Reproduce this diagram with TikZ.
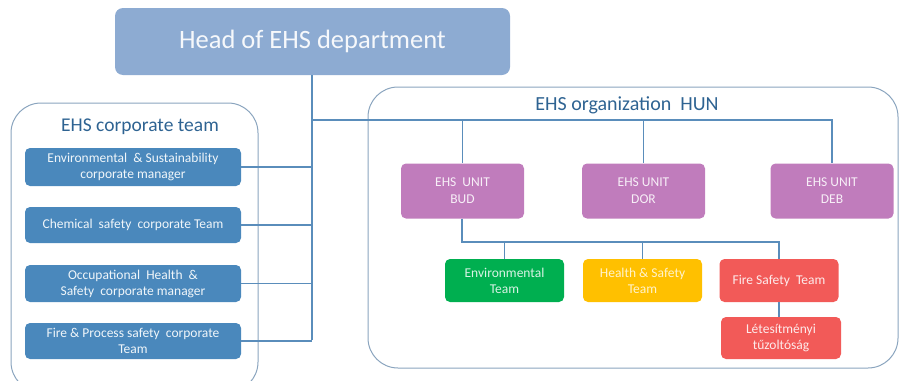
\documentclass[tikz,border=0pt]{standalone}
\usepackage{fontspec}
\setmainfont{Carlito}
\definecolor{headblue}{HTML}{8DABD2}
\definecolor{corpblue}{HTML}{4A88BC}
\definecolor{unitpurple}{HTML}{C07CBC}
\definecolor{envgreen}{HTML}{00AF50}
\definecolor{hsyellow}{HTML}{FFC000}
\definecolor{firered}{HTML}{F25A58}
\definecolor{linkblue}{HTML}{5A8DBB}
\definecolor{frameblue}{HTML}{8AA4BE}
\definecolor{titleblue}{HTML}{2E6392}
\tikzset{
  boxbase/.style={rounded corners=5pt, align=center, inner sep=1pt, text=white},
  corpbox/.style={boxbase, fill=corpblue, minimum width=216pt, font=\fontsize{13.5}{16}\selectfont, text=white!92!corpblue},
  unitbox/.style={boxbase, fill=unitpurple, minimum width=123pt, minimum height=55pt, font=\fontsize{13.5}{17}\selectfont, text=white!88!unitpurple},
  teambox/.style={boxbase, minimum width=119pt, minimum height=43pt, font=\fontsize{13.5}{16}\selectfont},
  frame/.style={draw=frameblue, line width=1pt, rounded corners=30pt},
  link/.style={draw=linkblue, line width=1.1pt},
}
\begin{document}
\begin{tikzpicture}[x=1pt,y=-1pt]
\useasboundingbox (0,0) rectangle (901,380);
\clip (0,0) rectangle (901,380);
% containers
\draw[frame] (11,103) rectangle (258,392);
\draw[frame] (368,87) rectangle (898,368);
\node[font=\fontsize{19.5}{22}\selectfont, text=titleblue] (corptitle) at (140,127) {EHS corporate team};
\node[font=\fontsize{20}{23}\selectfont, text=titleblue] (huntitle) at (627,105) {EHS organization\ \ HUN};
% head
\node[fill=headblue, rounded corners=8pt, minimum width=395pt, minimum height=67pt, text=white!92!headblue, font=\fontsize{26.5}{30}\selectfont] (head) at (312.5,41.5) {Head of EHS department};
% corporate boxes
\node[corpbox, minimum height=38pt] (c1) at (133,167) {Environmental\ \ \& Sustainability\\corporate manager};
\node[corpbox, minimum height=36pt] (c2) at (133,225) {Chemical\ \ safety\ \ corporate Team};
\node[corpbox, minimum height=37pt] (c3) at (133,283.5) {Occupational\ \ Health\ \ \&\\Safety\ \ corporate manager};
\node[corpbox, minimum height=36pt] (c4) at (133,341) {Fire \& Process safety\ \ corporate\\Team};
% units
\node[unitbox] (bud) at (462.5,191) {EHS\ \ UNIT\\BUD};
\node[unitbox] (dor) at (643.5,191) {EHS UNIT\\DOR};
\node[unitbox] (deb) at (832,191) {EHS UNIT\\DEB};
% teams
\node[teambox, fill=envgreen, text=white!85!envgreen] (env) at (504.5,280.5) {Environmental\\Team};
\node[teambox, fill=hsyellow, text=white!80!hsyellow] (hs) at (642.5,280.5) {Health \& Safety\\Team};
\node[teambox, fill=firered, text=white!88!firered] (fire) at (779,280.5) {Fire Safety\ \ Team};
\node[teambox, fill=firered, text=white!88!firered, minimum width=120pt, minimum height=42pt] (lt) at (781,338) {Létesítményi\\tűzoltóság};
% connectors
\coordinate (spine) at (312,340);
\coordinate (top) at (312,120);
\draw[link] (head.south -| spine) -- (spine);
\draw[link] (c1.east) -- (c1.east -| spine);
\draw[link] (c2.east) -- (c2.east -| spine);
\draw[link] (c3.east) -- (c3.east -| spine);
\draw[link] (c4.east) -- (c4.east -| spine);
\draw[link] (top) -- (top -| deb.north) -- (deb.north);
\draw[link] (top -| bud.north) -- (bud.north);
\draw[link] (top -| dor.north) -- (dor.north);
\coordinate (bar) at (462,242);
\draw[link] (bud.south -| bar) -- (bar) -- (bar -| fire.north) -- (fire.north);
\draw[link] (bar -| env.north) -- (env.north);
\draw[link] (bar -| hs.north) -- (hs.north);
\draw[link] (fire.south) -- (fire.south |- lt.north);
\end{tikzpicture}
\end{document}
